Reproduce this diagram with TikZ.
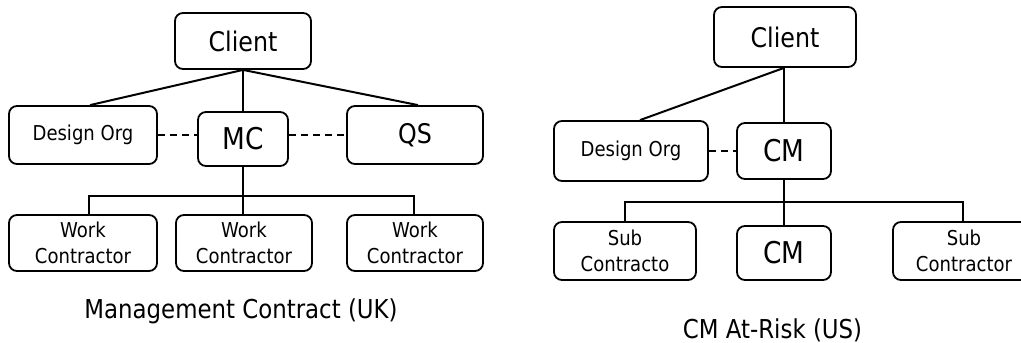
\documentclass[tikz,border=0pt]{standalone}
\usepackage{fontspec}
\setmainfont{DejaVu Sans}[FakeStretch=0.88]
\begin{document}
\begin{tikzpicture}[x=1pt,y=-1pt,
  orgbox/.style={draw,line width=1.8pt,rounded corners=8pt,inner sep=0pt,
    align=center,minimum width=#1},
  link/.style={line width=2pt},
  peer/.style={line width=2pt,dash pattern=on 7pt off 5pt},
  fbig/.style={font=\fontsize{30}{34}\selectfont},
  fmid/.style={font=\fontsize{27}{30}\selectfont},
  fsmall/.style={font=\fontsize{20.5}{26}\selectfont},
  fcap/.style={font=\fontsize{26}{30}\selectfont}]
\useasboundingbox (0,0) rectangle (1021,343);
\clip (0,0) rectangle (1021,343);

% ---- Management Contract (UK) ----
\node[orgbox=136pt,minimum height=56pt,fmid] (cl1) at (243,41) {Client};
\node[orgbox=148pt,minimum height=58pt,fsmall] (dz1) at (83,135) {Design Org};
\node[orgbox=90pt,minimum height=54pt,fbig] (mc) at (243,139) {MC};
\node[orgbox=136pt,minimum height=58pt,fmid] (qs) at (415,135) {QS};
\node[orgbox=148pt,minimum height=56pt,fsmall] (w1) at (83,243) {Work\\Contractor};
\node[orgbox=136pt,minimum height=56pt,fsmall] (w2) at (244,243) {Work\\Contractor};
\node[orgbox=136pt,minimum height=56pt,fsmall] (w3) at (415,243) {Work\\Contractor};
\coordinate (j1) at (243,196);

\draw[link] (cl1.south) -- ([xshift=7pt]dz1.north);
\draw[link] (cl1.south) -- ([xshift=3pt]qs.north);
\draw[link] (mc.north) -- (cl1.south);
\draw[peer] (dz1.east) -- (dz1.east -| mc.west);
\draw[peer] (mc.east |- qs.west) -- (qs.west);
\draw[link] (mc.south) -- (j1) -- (j1 |- w2.north);
\draw[link] ([xshift=6pt]w1.north) |- (j1) -| ([xshift=-1pt]w3.north);

\node[fcap,anchor=base] (cap1) at (241,318) {Management Contract (UK)};

% ---- CM At-Risk (US) ----
\node[orgbox=142pt,minimum height=60pt,fmid] (cl2) at (785,37) {Client};
\node[orgbox=154pt,minimum height=60pt,fsmall] (dz2) at (631,151) {Design Org};
\node[orgbox=94pt,minimum height=56pt,fbig] (cm1) at (784,151) {CM};
\node[orgbox=142pt,minimum height=58pt,fsmall] (sc1) at (625,251) {Sub\\Contracto};
\node[orgbox=94pt,minimum height=54pt,fbig] (cm2) at (784,253) {CM};
\node[orgbox=142pt,minimum height=58pt,fsmall] (sc2) at (964,251) {Sub\\Contractor};
\coordinate (j2) at (784,202);

\draw[link] ([xshift=-1pt]cl2.south) -- ([xshift=9pt]dz2.north);
\draw[link] (cm1.north) -- (cm1.north |- cl2.south);
\draw[peer] (dz2.east) -- (dz2.east -| cm1.west);
\draw[link] (cm1.south) -- (j2) -- (cm2.north);
\draw[link] (sc1.north) |- (j2) -| ([xshift=-1pt]sc2.north);

\node[fcap,anchor=base] (cap2) at (772.5,338) {CM At-Risk (US)};
\end{tikzpicture}
\end{document}
